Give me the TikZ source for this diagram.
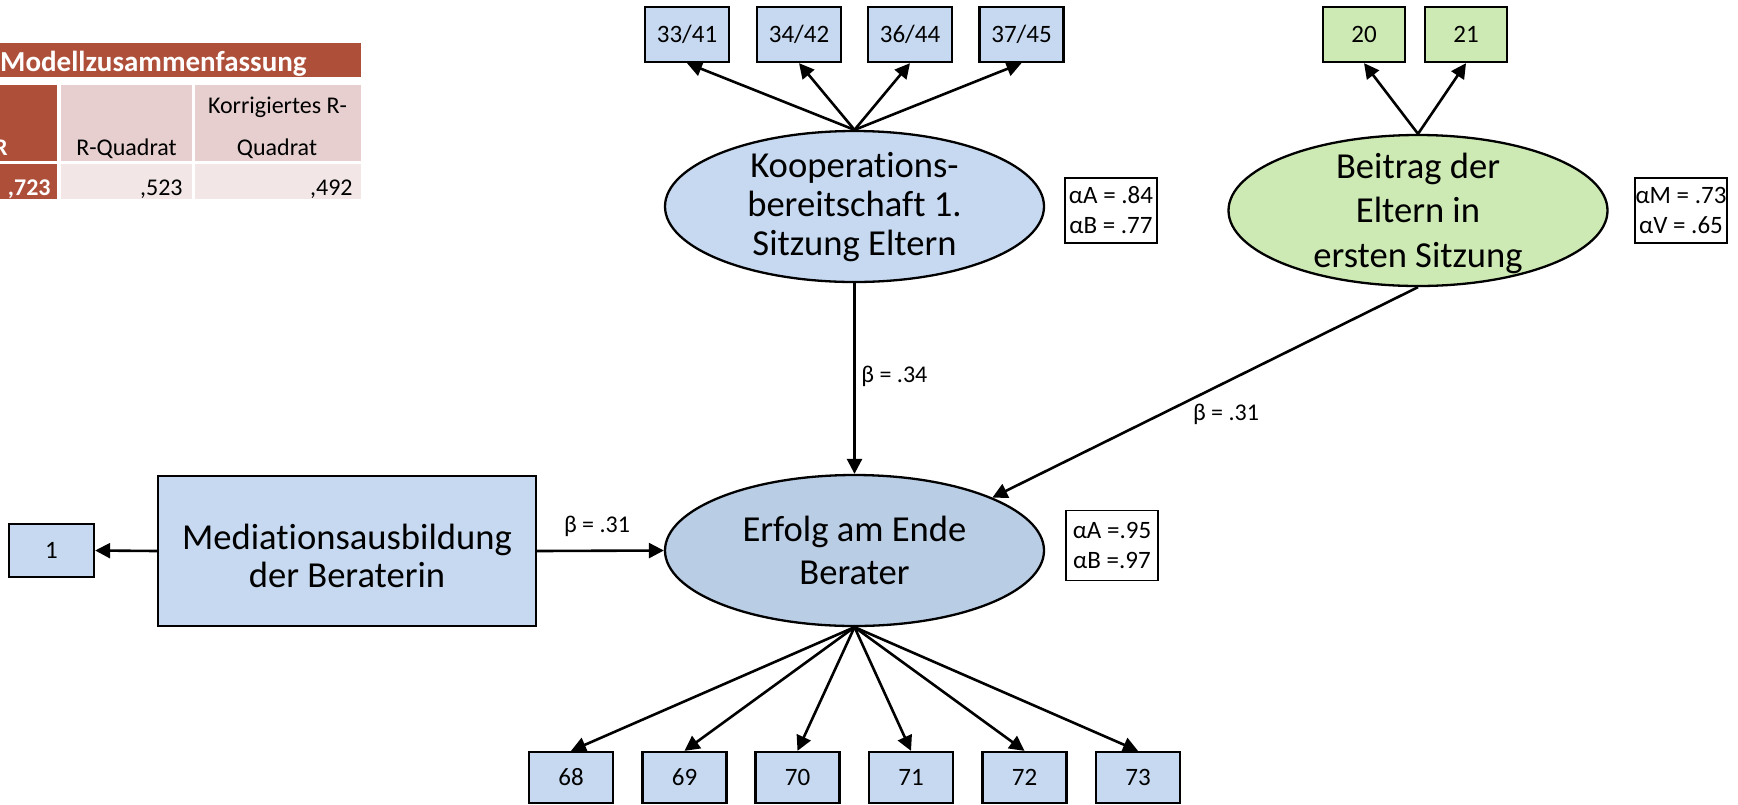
\documentclass[tikz,border=0pt]{standalone}
\usepackage{fontspec}
\setmainfont{Carlito}[Ligatures=NoCommon]
\usetikzlibrary{shapes.geometric,arrows.meta}

\definecolor{boxblue}{RGB}{198,217,240}
\definecolor{ellblue}{RGB}{185,205,229}
\definecolor{ellgreen}{RGB}{206,234,180}
\definecolor{tabred}{RGB}{174,79,58}
\definecolor{tabpink}{RGB}{231,207,207}
\definecolor{tablight}{RGB}{243,230,230}

\begin{document}
\begin{tikzpicture}[x=0.5pt,y=-0.5pt,
  item/.style={draw, line width=1.15pt, fill=boxblue, inner sep=0pt,
    minimum width=42pt, minimum height=27.5pt, font=\fontsize{12.5}{15}\selectfont},
  gitem/.style={item, fill=ellgreen, minimum width=41pt},
  latent/.style={ellipse, draw, line width=1.15pt, inner sep=0pt,
    minimum width=189.5pt, minimum height=75.5pt},
  bigtext/.style={align=center, inner sep=0pt},
  rel/.style={draw, line width=0.9pt, fill=white, inner sep=0pt,
    minimum width=46pt, align=center, font=\fontsize{12.5}{15}\selectfont},
  path/.style={line width=1.3pt, -{Triangle[length=7.5pt,width=7.5pt]}},
  coef/.style={inner sep=0pt, font=\fontsize{12}{14}\selectfont},
  tabtext/.style={inner sep=0pt, font=\fontsize{12}{14}\selectfont},
  tabhead/.style={inner sep=0pt, text=white, font=\fontsize{14.5}{16}\selectfont\bfseries}
]
\useasboundingbox (0,0) rectangle (1738,804);
\clip (0,0) rectangle (1738,804);

% ---- model summary table (upper left) ----
\fill[tabred] (-20,43) rectangle (361,77);
\fill[tabred] (-20,85) rectangle (57,161);
\fill[tabpink] (61,85) rectangle (192,161);
\fill[tabpink] (195,85) rectangle (361,161);
\fill[tabred] (-20,164) rectangle (57,199);
\fill[tablight] (61,164) rectangle (192,199);
\fill[tablight] (195,164) rectangle (361,199);
\node[tabhead, anchor=base east] (thead) at (307,71.5) {Modellzusammenfassung};
\node[tabtext, text=white, font=\fontsize{12}{14}\selectfont\bfseries, anchor=base east] (tR) at (8,155) {R};
\node[tabtext, anchor=base] (tRQ) at (126.5,155) {R-Quadrat};
\node[tabtext, anchor=base] (tKR) at (277.5,113) {Korrigiertes R-};
\node[tabtext, anchor=base] (tKQ) at (277,155) {Quadrat};
\node[tabtext, text=white, font=\fontsize{12}{14}\selectfont\bfseries, anchor=base east] (tv1) at (51,195) {,723};
\node[tabtext, anchor=base east] (tv2) at (183,195) {,523};
\node[tabtext, anchor=base east] (tv3) at (353,195) {,492};

% ---- latent variables ----
\node[latent, fill=boxblue] (K) at (854.5,206.5) {};
\node[bigtext, font=\fontsize{18.3}{19.5}\selectfont] (Ktext) at (854.5,207.5)
  {Kooperations-\\bereitschaft 1.\\Sitzung Eltern};

\node[latent, fill=ellgreen] (B) at (1418,210.5) {};
\node[bigtext, font=\fontsize{18.3}{22.25}\selectfont] (Btext) at (1418,213)
  {Beitrag der\\Eltern in\\ersten Sitzung};

\node[latent, fill=ellblue] (E) at (854.5,550.5) {};
\node[bigtext, font=\fontsize{18.3}{21.5}\selectfont] (Etext) at (854.5,550.5)
  {Erfolg am Ende\\Berater};

\node[draw, line width=1.15pt, fill=boxblue, minimum width=189pt, minimum height=75pt,
  inner sep=0pt] (M) at (347,551) {};
\node[bigtext, font=\fontsize{18.3}{19}\selectfont] (Mtext) at (347,556)
  {Mediationsausbildung\\der Beraterin};

% ---- indicators ----
\node[item] (k1) at (687,34.5) {33/41};
\node[item] (k2) at (799,34.5) {34/42};
\node[item] (k3) at (910,34.5) {36/44};
\node[item] (k4) at (1021.5,34.5) {37/45};

\node[gitem] (b1) at (1364,34.5) {20};
\node[gitem] (b2) at (1466,34.5) {21};

\node[item, minimum width=42.5pt, minimum height=26.5pt] (m1) at (51.5,550.5) {1};

\node[item, minimum height=25.5pt] (e1) at (571,777.5) {68};
\node[item, minimum height=25.5pt] (e2) at (684.5,777.5) {69};
\node[item, minimum height=25.5pt] (e3) at (797.5,777.5) {70};
\node[item, minimum height=25.5pt] (e4) at (911,777.5) {71};
\node[item, minimum height=25.5pt] (e5) at (1024.5,777.5) {72};
\node[item, minimum height=25.5pt] (e6) at (1138,777.5) {73};

% ---- reliabilities ----
\node[rel, minimum height=32.5pt] (rK) at (1111,210.5) {αA = .84\\αB = .77};
\node[rel, minimum height=32.5pt] (rB) at (1681,210.5) {αM = .73\\αV = .65};
\node[rel, minimum height=35pt] (rE) at (1112,545.5) {αA =.95\\αB =.97};

% ---- measurement paths ----
\foreach \t in {k1,k2,k3,k4} \draw[path] (K.north) -- (\t.south);
\foreach \t in {b1,b2} \draw[path] (B.north) -- (\t.south);
\foreach \t in {e1,e2,e3,e4,e5,e6} \draw[path] (E.south) -- (\t.north);
\draw[path] (M.west) -- (m1.east);

% ---- structural paths ----
\draw[path] (K.south) -- (E.north);
\draw[path] (B.south) -- (E.21.5);
\draw[path] (M.east) -- (E.west);

\node[coef, anchor=west] (c1) at (861,376) {β = .34};
\node[coef] (c2) at (1226,414) {β = .31};
\node[coef] (c3) at (597,526) {β = .31};
\end{tikzpicture}
\end{document}
